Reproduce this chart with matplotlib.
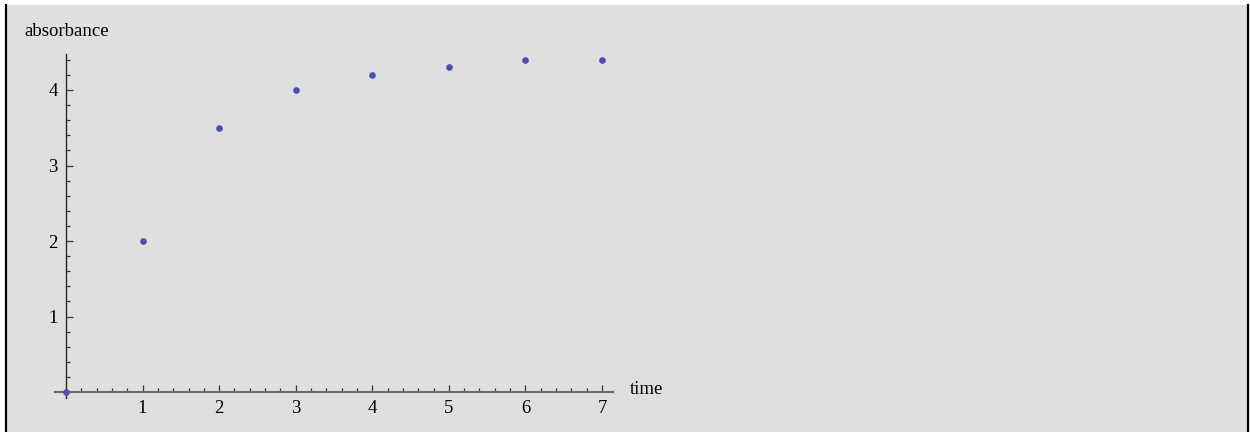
import matplotlib.pyplot as plt
from matplotlib.ticker import MultipleLocator
from matplotlib.lines import Line2D
from matplotlib.patches import Rectangle

# données
time_vals = [0, 1, 2, 3, 4, 5, 6, 7]
absorbance = [0, 2, 3.5, 4, 4.2, 4.3, 4.4, 4.4]
x_ticks = [1, 2, 3, 4, 5, 6, 7]
y_ticks = [1, 2, 3, 4]

W, H = 1250, 432
bg = '#dfdfdf'

plt.rcParams['font.family'] = ['Liberation Serif', 'DejaVu Serif']

fig = plt.figure(figsize=(W / 100, H / 100), dpi=100)
fig.patch.set_facecolor('white')

# fond gris et bordures
fig.patches.append(Rectangle((6 / W, 0), (1247 - 6) / W, (H - 5) / H,
                             transform=fig.transFigure, facecolor=bg,
                             edgecolor='none', zorder=-10))
fig.lines.append(Line2D([5.5 / W, 5.5 / W], [0, (H - 5) / H],
                        transform=fig.transFigure, color='black', lw=1.6))
fig.lines.append(Line2D([1248 / W, 1248 / W], [0, (H - 5) / H],
                        transform=fig.transFigure, color='black', lw=1.6))

# axe: origine au pixel (66, 392)
x0, y0 = 66, 392
sx, sy = 76.57, 75.5
left_px, right_px = 55, 613
top_px, bot_px = 54, 398
ax = fig.add_axes([left_px / W, (H - bot_px) / H,
                   (right_px - left_px) / W, (bot_px - top_px) / H])
ax.set_facecolor('none')
ax.set_xlim((left_px - x0) / sx, (right_px - x0) / sx)
ax.set_ylim((y0 - bot_px) / sy, (y0 - top_px) / sy)

ax.plot(time_vals, absorbance, 'o', color='#4b51b0', ms=4.8, mec='none',
        zorder=3, clip_on=False)

for s in ['top', 'right']:
    ax.spines[s].set_visible(False)
ax.spines['left'].set_position(('data', 0))
ax.spines['bottom'].set_position(('data', 0))
ax.spines['left'].set_color('#2a2a2a')
ax.spines['left'].set_linewidth(1.0)
ax.spines['bottom'].set_color('#6a6a6a')
ax.spines['bottom'].set_linewidth(1.5)

ax.set_xticks(x_ticks)
ax.set_yticks(y_ticks)
ax.xaxis.set_minor_locator(MultipleLocator(0.2))
ax.yaxis.set_minor_locator(MultipleLocator(0.2))
ax.tick_params(which='both', direction='in', color='#333333', width=0.9,
               labelsize=13.5, pad=6)
ax.tick_params(which='major', length=5)
ax.tick_params(which='minor', length=3)

fig.text(24 / W, 1 - 31 / H, 'absorbance', fontsize=13.5, va='center', ha='left')
fig.text(630 / W, 1 - 389 / H, 'time', fontsize=13.5, va='center', ha='left')

fig.savefig('out.png', dpi=100, facecolor=fig.get_facecolor())
